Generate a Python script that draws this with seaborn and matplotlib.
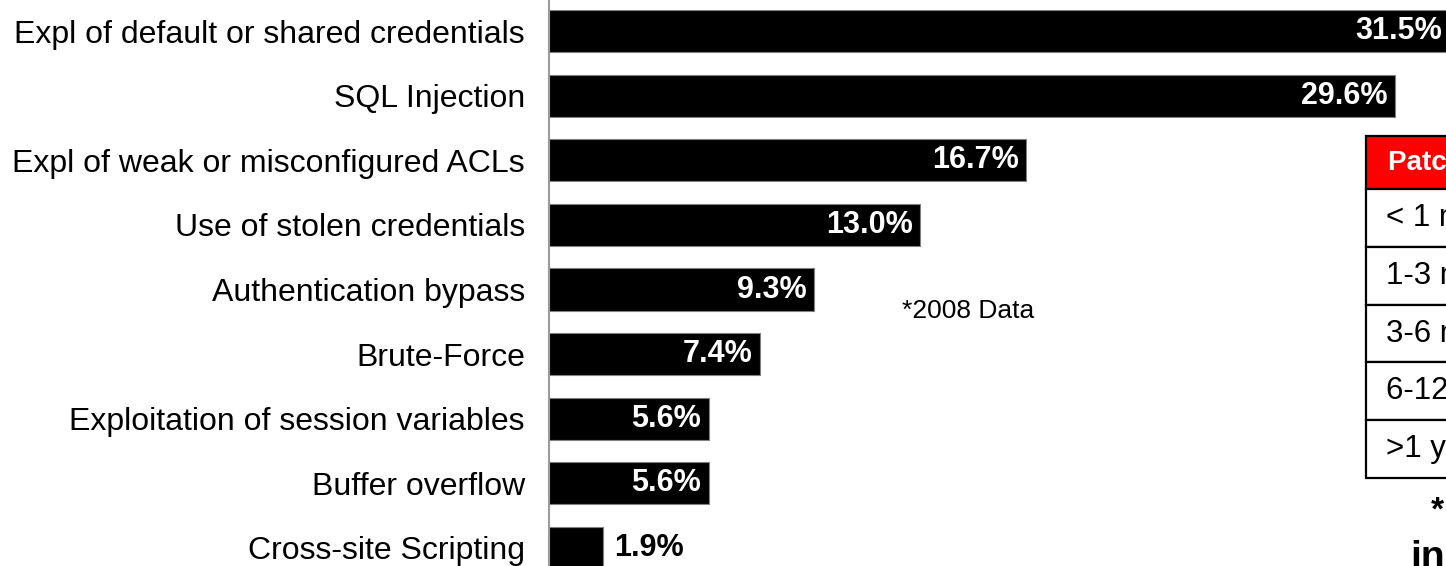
import matplotlib
matplotlib.use("Agg")
import matplotlib.pyplot as plt
from matplotlib.patches import Rectangle
import seaborn as sns
import pandas as pd

# Attack methods and share of breaches (%)
categories = [
    "Expl of default or shared credentials",
    "SQL Injection",
    "Expl of weak or misconfigured ACLs",
    "Use of stolen credentials",
    "Authentication bypass",
    "Brute-Force",
    "Exploitation of session variables",
    "Buffer overflow",
    "Cross-site Scripting",
]
values = [31.5, 29.6, 16.7, 13.0, 9.3, 7.4, 5.6, 5.6, 1.9]

# Patch availability table
table_header = "Patch Availability"
table_rows = ["< 1 month", "1-3 months", "3-6 months", "6-12 months", ">1 year"]

sns.set_theme(style="white")
plt.rcParams["font.family"] = ["Liberation Sans", "DejaVu Sans"]

W, H = 1446, 566
fig = plt.figure(figsize=(W / 100, H / 100), dpi=100)
fig.patch.set_facecolor("white")

px_per_unit = 28.6
x_max = 32
ax_left = 548.5
ax = fig.add_axes([ax_left / W, 0, x_max * px_per_unit / W, 1])

df = pd.DataFrame({"category": categories, "value": values})
sns.barplot(data=df, x="value", y="category", orient="h", color="black",
            width=0.65, edgecolor="#808080", linewidth=0.8, saturation=1,
            ax=ax)

pitch = H / 8.759
ax.set_ylim(8 + 18 / pitch, -31 / pitch)
ax.set_xlim(0, x_max)
ax.set_xlabel("")
ax.set_ylabel("")
ax.set_xticks([])
ax.tick_params(axis="y", length=0, pad=17, labelsize=23, labelcolor="black")
for side in ["top", "right", "bottom"]:
    ax.spines[side].set_visible(False)
ax.spines["left"].set_color("#9a9a9a")
ax.spines["left"].set_linewidth(1.5)
ax.patch.set_alpha(0)

for i, v in enumerate(values):
    label = f"{v:.1f}%"
    if v < 3:
        ax.annotate(label, (v, i), xytext=(8, 0), textcoords="offset points",
                    ha="left", va="center", fontsize=22, fontweight="bold",
                    color="black")
    else:
        ax.annotate(label, (v, i), xytext=(-5.5, 0), textcoords="offset points",
                    ha="right", va="center", fontsize=22, fontweight="bold",
                    color="white")

fig.text(968 / W, 1 - 311 / H, "*2008 Data", ha="center", va="center",
         fontsize=19, color="black")

# Table drawn in figure pixel space
def fx(x):
    return x / W

def fy(y):
    return 1 - y / H

t_left, t_right = 1366, W + 60
t_top, head_bot = 136, 189
row_h = (478 - head_bot) / len(table_rows)

fig.patches.append(Rectangle((fx(t_left), fy(head_bot)), fx(t_right) - fx(t_left),
                             fy(t_top) - fy(head_bot), transform=fig.transFigure,
                             facecolor="#ff0000", edgecolor="black", linewidth=1.6))
fig.text(fx(1388), fy((t_top + head_bot) / 2), table_header, ha="left", va="center",
         fontsize=20, fontweight="bold", color="white")

for k, name in enumerate(table_rows):
    y0 = head_bot + k * row_h
    y1 = y0 + row_h
    fig.patches.append(Rectangle((fx(t_left), fy(y1)), fx(t_right) - fx(t_left),
                                 fy(y0) - fy(y1), transform=fig.transFigure,
                                 facecolor="white", edgecolor="black", linewidth=1.6))
    fig.text(fx(1386), fy((y0 + y1) / 2), name, ha="left", va="center",
             fontsize=22.5, color="black")

fig.text(fx(1437), fy(511), "*", ha="center", va="center", fontsize=24,
         fontweight="bold", color="black")
fig.text(fx(1410), fy(558), "in", ha="left", va="center", fontsize=28,
         fontweight="bold", color="black")

fig.savefig("out.png", dpi=100, facecolor="white")
